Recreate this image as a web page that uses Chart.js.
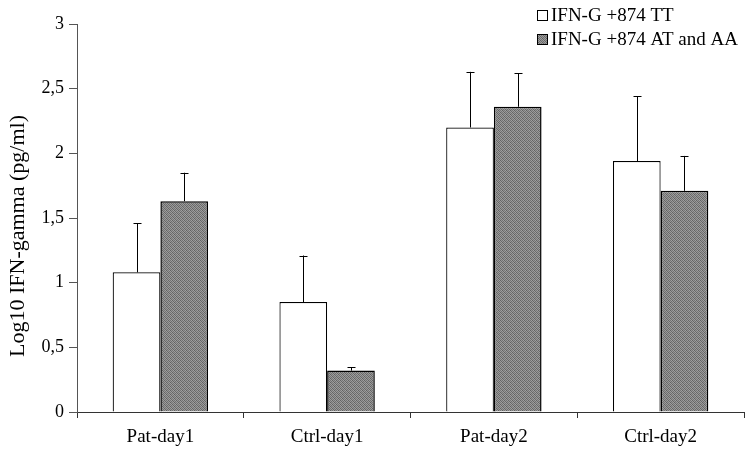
<!DOCTYPE html>
<html>
<head>
<meta charset="utf-8">
<script src="https://cdn.jsdelivr.net/npm/chart.js@4/dist/chart.umd.min.js"></script>
<style>
  html, body { margin: 0; padding: 0; background: #fff; }
  #wrap { width: 748px; height: 450px; position: relative; }
</style>
</head>
<body>
<div id="wrap"><canvas id="c" width="748" height="450"></canvas></div>
<script>
// Categories and series
const categories = ['Pat-day1', 'Ctrl-day1', 'Pat-day2', 'Ctrl-day2'];
const seriesNames = ['IFN-G +874 TT', 'IFN-G +874 AT and AA'];
const ttMeans = [1.08, 0.85, 2.20, 1.94];
const ttSD = [0.38, 0.36, 0.43, 0.50];
const ataaMeans = [1.63, 0.32, 2.36, 1.71];
const ataaSD = [0.22, 0.025, 0.26, 0.27];
const yTicks = [0, 0.5, 1, 1.5, 2, 2.5, 3];
const yTitle = 'Log10 IFN-gamma (pg/ml)';

const FONT = "'Liberation Serif', 'DejaVu Serif', serif";

// Stippled grey fill used for the second series
function stipple() {
  const c = document.createElement('canvas');
  c.width = 4; c.height = 4;
  const g = c.getContext('2d');
  const cells = [
    '#636363', '#969696', '#737373', '#a0a0a0',
    '#9c9c9c', '#686868', '#989898', '#6e6e6e',
    '#767676', '#a2a2a2', '#606060', '#949494',
    '#9a9a9a', '#727272', '#9e9e9e', '#6a6a6a'
  ];
  cells.forEach((col, i) => { g.fillStyle = col; g.fillRect(i % 4, Math.floor(i / 4), 1, 1); });
  return g.createPattern(c, 'repeat');
}
const grey = stipple();

// Upward error bars (mean + SD) drawn through the chart's scales
const errorBars = {
  id: 'errorBars',
  afterDatasetsDraw(chart) {
    const ctx = chart.ctx;
    const y = chart.scales.y;
    const sds = [ttSD, ataaSD];
    ctx.save();
    ctx.strokeStyle = '#000';
    ctx.lineWidth = 1;
    chart.data.datasets.forEach((ds, di) => {
      const meta = chart.getDatasetMeta(di);
      meta.data.forEach((bar, i) => {
        const top = y.getPixelForValue(ds.data[i] + sds[di][i]);
        const x = Math.round(bar.x) + 0.5;
        ctx.beginPath();
        ctx.moveTo(x, bar.y);
        ctx.lineTo(x, top);
        ctx.moveTo(x - 4, Math.round(top) + 0.5);
        ctx.lineTo(x + 4, Math.round(top) + 0.5);
        ctx.stroke();
      });
    });
    ctx.restore();
  }
};

// Legend in the upper right corner and the rotated y-axis title
const annotations = {
  id: 'annotations',
  afterDraw(chart) {
    const ctx = chart.ctx;
    const fills = ['#ffffff', grey];
    ctx.save();
    ctx.font = '19px ' + FONT;
    ctx.textBaseline = 'middle';
    seriesNames.forEach((name, i) => {
      const yy = 15 + i * 24;
      ctx.fillStyle = fills[i];
      ctx.fillRect(537, yy - 5, 11, 11);
      ctx.strokeStyle = '#000';
      ctx.lineWidth = 1;
      ctx.strokeRect(537.5, yy - 4.5, 10, 10);
      ctx.fillStyle = '#000';
      ctx.fillText(name, 551, yy + 1);
    });
    ctx.translate(18, 236);
    ctx.rotate(-Math.PI / 2);
    ctx.font = '22px ' + FONT;
    ctx.textAlign = 'center';
    ctx.fillText(yTitle, 0, 0);
    ctx.restore();
  }
};

new Chart(document.getElementById('c'), {
  type: 'bar',
  data: {
    labels: categories,
    datasets: [
      { label: seriesNames[0], data: ttMeans, backgroundColor: '#ffffff', borderColor: '#000', borderWidth: 1.2 },
      { label: seriesNames[1], data: ataaMeans, backgroundColor: grey, borderColor: '#000', borderWidth: 1.5 }
    ]
  },
  options: {
    responsive: false,
    animation: false,
    events: [],
    layout: { padding: { top: 24, right: 4, left: 0, bottom: 0 } },
    datasets: { bar: { barPercentage: 1, categoryPercentage: 0.572 } },
    plugins: { legend: { display: false }, tooltip: { enabled: false } },
    scales: {
      x: {
        grid: { display: true, drawOnChartArea: false, offset: true, tickLength: 6, color: '#333' },
        border: { display: true, color: '#333', width: 1 },
        ticks: { color: '#000', font: { family: FONT, size: 19 }, padding: 8 },
        afterFit(s) { s.height = 38; }
      },
      y: {
        min: 0, max: 3,
        afterBuildTicks(s) { s.ticks = yTicks.map(v => ({ value: v })); },
        grid: { display: true, drawOnChartArea: false, tickLength: 8, color: '#555' },
        border: { display: true, color: '#555', width: 1 },
        ticks: {
          color: '#000', font: { family: FONT, size: 18 }, padding: 5,
          callback: v => String(v).replace('.', ',')
        },
        afterFit(s) { s.width = 77; }
      }
    }
  },
  plugins: [errorBars, annotations]
});
</script>
</body>
</html>
